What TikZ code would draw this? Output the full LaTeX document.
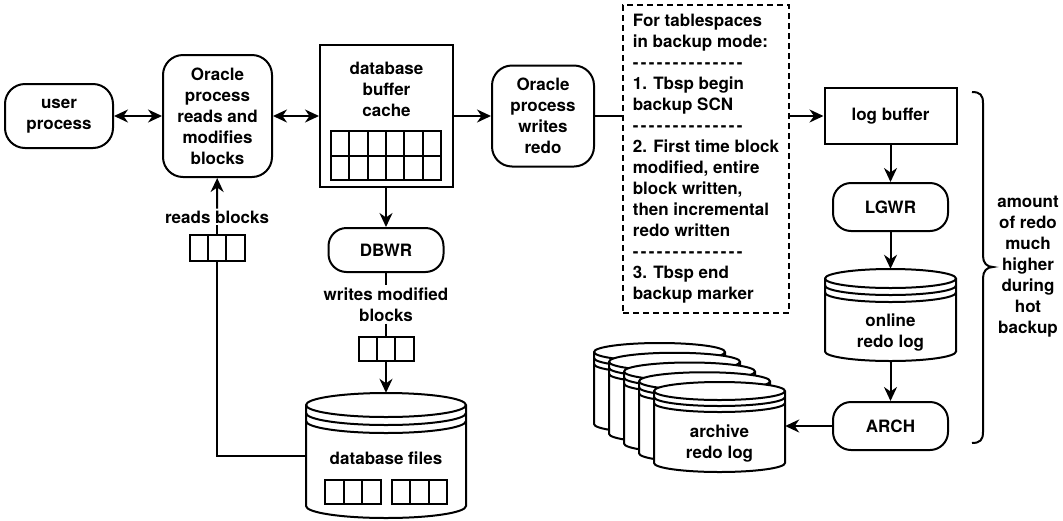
\documentclass[tikz,border=0pt]{standalone}
\usepackage{fontspec}
\setmainfont{TeX Gyre Heros}
\usetikzlibrary{arrows.meta}
\newcommand\dd{\makebox[8pt][l]{-}}
\newcommand\ddrow{\dd\dd\dd\dd\dd\dd\dd\dd\dd\dd\dd\dd\dd\dd}
% cylinder: #1 cx, #2 top, #3 half width, #4 height, #5 ry, #6 stripe gap
\newcommand\mycyl[6]{%
  \filldraw[ln, fill=white] (#1-#3,#2+#5) -- (#1-#3,#2+#4-#5)
    arc[start angle=180,end angle=360,x radius=#3pt,y radius=#5pt]
    -- (#1+#3,#2+#5)
    arc[start angle=0,end angle=180,x radius=#3pt,y radius=#5pt] -- cycle;
  \draw[ln] (#1-#3,#2+#5) arc[start angle=180,end angle=360,x radius=#3pt,y radius=#5pt];
  \draw[ln] (#1-#3,#2+#5+#6) arc[start angle=180,end angle=360,x radius=#3pt,y radius=#5pt];
  \draw[ln] (#1-#3,#2+#5+2*#6) arc[start angle=180,end angle=360,x radius=#3pt,y radius=#5pt];
}
% row of three cells: #1 x1, #2 y1, #3 x2, #4 y2
\newcommand\threecells[4]{%
  \draw[ln, fill=white] (#1,#2) rectangle (#3,#4);
  \draw[ln] ({#1+(#3-#1)/3},#2) -- ({#1+(#3-#1)/3},#4);
  \draw[ln] ({#1+2*(#3-#1)/3},#2) -- ({#1+2*(#3-#1)/3},#4);
}
\tikzset{
  every node/.style={font=\fontsize{17}{21}\selectfont\bfseries},
  ln/.style={line width=2pt},
  box/.style={draw, line width=2pt, fill=white, align=center, inner sep=0pt},
  rbox/.style={box, rounded corners=20pt},
  pill/.style={box, rounded corners=18pt},
  arr/.style={ln, -{Stealth[length=14pt,width=13pt,inset=4.5pt]}},
  darr/.style={ln, {Stealth[length=14pt,width=13pt,inset=4.5pt]}-{Stealth[length=14pt,width=13pt,inset=4.5pt]}},
  lbl/.style={align=center, inner sep=2pt},
  ghost/.style={inner sep=0pt},
}
\begin{document}
\begin{tikzpicture}[x=1pt,y=-1pt]
\useasboundingbox[fill=white] (0,0) rectangle (1063,520);

% left part
\node[rbox, minimum width=108pt, minimum height=64pt] (user) at (59,116) {user\\process};
\node[rbox, minimum width=109pt, minimum height=122pt] (ora1) at (217.5,116) {Oracle\\process\\reads and\\modifies\\blocks};

% buffer cache
\node[box, minimum width=133pt, minimum height=142pt] (cache) at (386.5,116) {};
\node[lbl] (cachelbl) at (386.5,89.5) {database\\buffer\\cache};
\draw[ln] (331,131) rectangle (441,180);
\draw[ln] (331,155.5) -- (441,155.5);
\foreach \i in {1,...,5} { \draw[ln] ({331+\i*110/6},131) -- ({331+\i*110/6},180); }

\node[rbox, minimum width=102pt, minimum height=101pt] (ora2) at (543,116) {Oracle\\process\\writes\\redo};

% note
\node[draw, line width=1.8pt, dash pattern=on 6pt off 4pt, minimum width=166pt, minimum height=308pt, align=left, inner sep=0pt] (note) at (706,159)
{For tablespaces\\in backup mode:\\\ddrow\\1. Tbsp begin\\backup SCN\\\ddrow\\2. First time block\\modified, entire\\block written,\\then incremental\\redo written\\\ddrow\\3. Tbsp end\\backup marker};

% right column
\node[box, minimum width=132pt, minimum height=56pt] (logbuf) at (890.5,116) {log buffer};
\node[pill, minimum width=115pt, minimum height=48pt] (lgwr) at (890.5,207) {LGWR};
\mycyl{890.5}{269}{65.5}{92}{9.5}{7}
\node[ghost, minimum width=131pt, minimum height=92pt] (online) at (890.5,315) {};
\node[lbl] (onlinelbl) at (890.5,332.5) {online\\redo log};
\node[pill, minimum width=115pt, minimum height=48pt] (arch) at (890.5,426) {ARCH};

% archive stack
\foreach \k in {4,3,2,1,0} {
  \mycyl{719.5-15*\k}{382-9.75*\k}{65.5}{90}{9}{6}
}
\node[ghost, minimum width=131pt, minimum height=90pt] (archive) at (719.5,427) {};
\node[lbl] (archivelbl) at (719.5,443.5) {archive\\redo log};

% DBWR and files
\node[pill, minimum width=115pt, minimum height=44pt] (dbwr) at (386,250) {DBWR};
\node[lbl] (wmb) at (386,304.5) {writes modified\\blocks};
\node[ghost, minimum width=55pt, minimum height=24pt] (box2) at (386,349) {};
\threecells{358.5}{337}{413.5}{361}
\node[lbl] (rb) at (217,217) {reads blocks};
\node[ghost, minimum width=55pt, minimum height=26pt] (box1) at (217,248) {};
\threecells{189.5}{235}{244.5}{261}

\mycyl{386}{393}{80}{125}{12}{8}
\node[ghost, minimum width=160pt, minimum height=125pt] (dbf) at (386,455.5) {};
\node[lbl] (dbflbl) at (386,458) {database files};
\threecells{325}{480}{381}{504}
\threecells{392}{480}{447}{504}

% connectors
\draw[darr] (user) -- (ora1);
\draw[darr] (ora1) -- (cache);
\draw[arr] (cache.east |- ora2.west) -- (ora2.west);
\draw[ln] (ora2.east) -- (ora2.east -| note.west);
\draw[arr] (note.east |- logbuf.west) -- (logbuf.west);
\draw[arr] (logbuf) -- (lgwr);
\draw[arr] (lgwr) -- (online);
\draw[arr] (online) -- (arch);
\draw[arr] (arch.west) -- (arch.west -| archive.east);
\draw[arr] (dbwr.north |- cache.south) -- (dbwr.north);
\draw[ln] (dbwr) -- (wmb);
\draw[ln] (wmb) -- (box2);
\draw[arr] (box2) -- (dbf);
\draw[ln] (box1) -- (rb);
\draw[arr] (rb) -- (ora1);
\draw[ln] (box1.south) |- (dbf.west);

% brace
\draw[ln] (972,92) .. controls (980,92) and (983,95) .. (983,103) -- (983,256)
  .. controls (983,263) and (987,267) .. (993,267)
  .. controls (987,267) and (983,271) .. (983,278) -- (983,432)
  .. controls (983,440) and (980,443) .. (972,443);
\node[lbl] (bnote) at (1028,267) {amount\\of redo\\much\\higher\\during\\hot\\backup};
\end{tikzpicture}
\end{document}
